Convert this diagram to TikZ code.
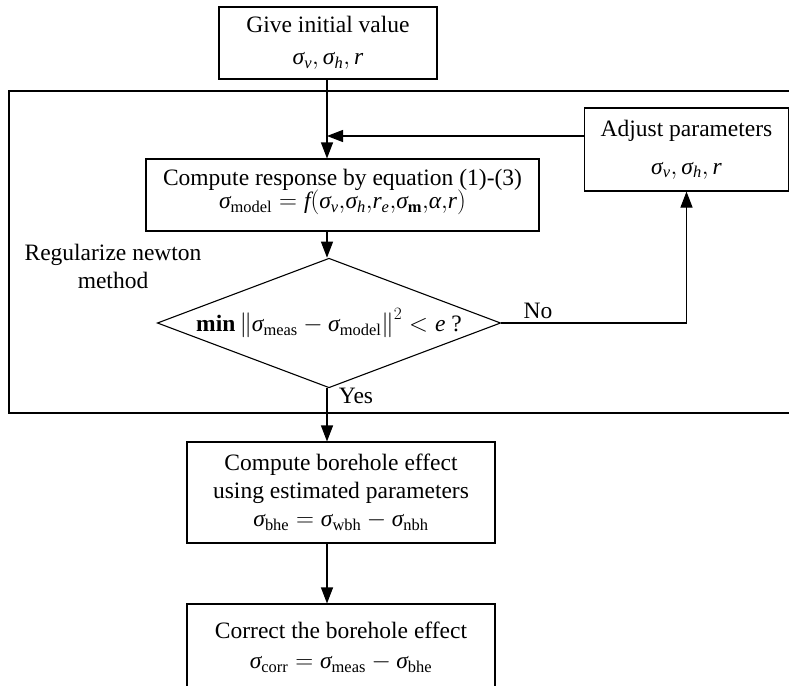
\documentclass[tikz,border=0pt]{standalone}
\usepackage{amsmath}
\usepackage{fontspec}
\setmainfont{Liberation Serif}
\usetikzlibrary{arrows.meta,shapes.geometric}
\newcommand{\gs}{\textit{σ}}
\newcommand{\mi}[1]{\textit{#1}}
\newcommand{\ur}[1]{\textrm{#1}}
\begin{document}
\begin{tikzpicture}[x=1pt,y=-1pt,line width=1.1pt,
  font=\fontsize{23.5}{28}\selectfont,
  box/.style={draw,rectangle,inner sep=0pt,align=center},
  arr/.style={-{Triangle[length=16pt,width=12pt]}},
  lbl/.style={inner sep=0pt,align=center}]
\useasboundingbox (0,0) rectangle (789,685);
% group frame
\draw (9,91) rectangle (820,413);
\coordinate (t) at (327,0);
\node[box,minimum width=218pt,minimum height=72pt] (init) at (328,43)
  {Give initial value\\[4pt] $\gs_{\mi{v}},\gs_{\mi{h}},\mi{r}$};
\node[box,minimum width=393pt,minimum height=72pt] (comp) at (342.5,195)
  {Compute response by equation (1)-(3)\\[-5pt]
   $\gs_{\ur{model}} = \mi{f}(\gs_{\mi{v}}{,}\gs_{\mi{h}}{,}\mi{r}_{\mi{e}}{,}\gs_{\textbf{m}}{,}\mi{α}{,}\mi{r})$\\[-16pt]\mbox{}};
\node[box,minimum width=204pt,minimum height=83pt] (adj) at (686.5,149.5)
  {Adjust parameters\\[10pt] $\gs_{\mi{v}},\gs_{\mi{h}},\mi{r}$};
\node[draw,diamond,aspect=2.65,inner sep=0pt,minimum width=336pt,minimum height=126pt] (dec) at (329,323)
  {$\textbf{min}\left\|\gs_{\ur{meas}} - \gs_{\ur{model}}\right\|^{2} < \mi{e}$ ?};
\node[lbl] (reg) at (113,266) {Regularize newton\\method};
\node[box,minimum width=308pt,minimum height=101pt] (bhe) at (341,492.5)
  {Compute borehole effect\\using estimated parameters\\
   $\gs_{\ur{bhe}} = \gs_{\ur{wbh}} - \gs_{\ur{nbh}}$};
\node[box,minimum width=308pt,minimum height=86pt] (corr) at (341,647)
  {Correct the borehole effect\\[2pt]
   $\gs_{\ur{corr}} = \gs_{\ur{meas}} - \gs_{\ur{bhe}}$};
\coordinate (fb) at (584,136);
% connectors
\draw[arr] (init.south -| t) -- (comp.north -| t);
\draw[arr] (fb) -- (fb -| t);
\draw[arr] (comp.south -| t) -- (dec.north -| t);
\draw[arr] (dec.east) -| (adj.south);
\draw[arr] (dec.south -| t) -- (bhe.north -| t);
\draw[arr] (bhe.south -| t) -- (corr.north -| t);
\node[lbl] (no) at (538,311) {No};
\node[lbl] (yes) at (356,396) {Yes};
\end{tikzpicture}
\end{document}
